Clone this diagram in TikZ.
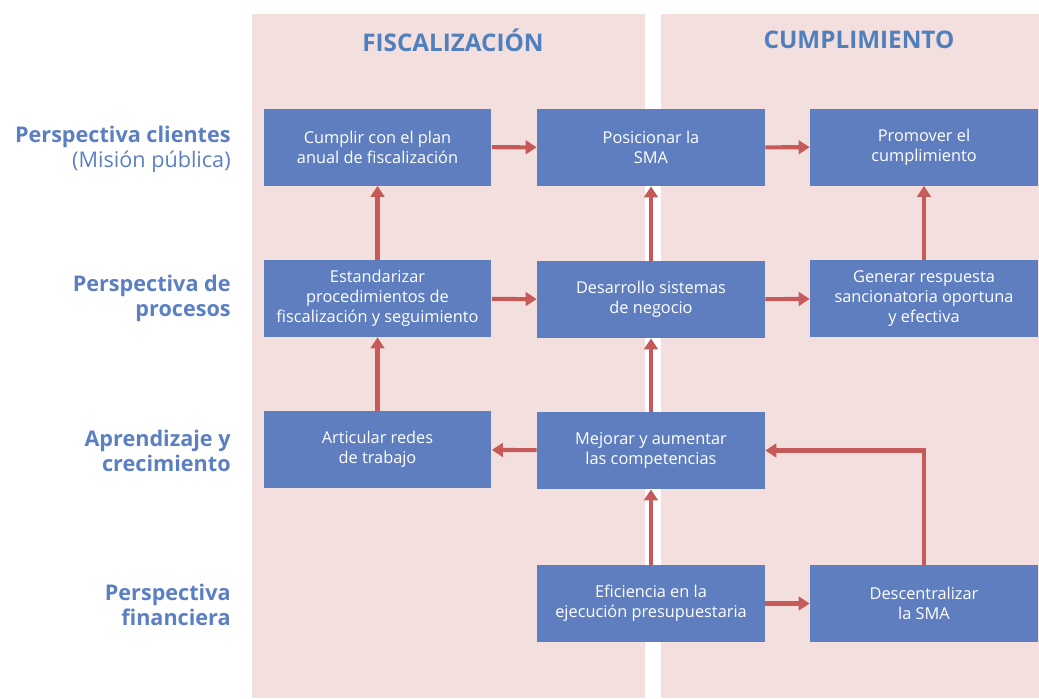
\documentclass[tikz,border=0pt]{standalone}
\usepackage{fontspec}
\setmainfont{Open Sans}
\usepackage{tikz}
\usetikzlibrary{arrows.meta,positioning,calc}

\definecolor{panelbg}{HTML}{F2DFDE}
\definecolor{boxblue}{HTML}{5F7EBF}
\definecolor{titleblue}{HTML}{4F7FBD}
\definecolor{labelblue}{HTML}{5B7FC2}
\definecolor{arrowred}{HTML}{C55A58}

\begin{document}
\begin{tikzpicture}[x=0.02cm, y=-0.02cm,
    objbox/.style={fill=boxblue, draw=none, minimum width=4.56cm, minimum height=1.54cm,
        text=white, align=center, font=\fontsize{9.3}{11.4}\selectfont, inner sep=2pt},
    persp/.style={anchor=east, align=right, text=labelblue, inner sep=0pt,
        font=\fontsize{12.3}{14.2}\selectfont},
    coltitle/.style={text=titleblue, font=\fontsize{13.8}{16}\selectfont\bfseries},
    link/.style={arrowred, line width=2.3pt, -{Triangle[length=0.22cm, width=0.27cm]}}
]
    \useasboundingbox (0,0) rectangle (1039,698);

    % Panels
    \fill[panelbg] (252,14) rectangle (645,698);
    \fill[panelbg] (661,14) rectangle (1039,698);
    \node[coltitle] (tfis) at (453,40) {FISCALIZACIÓN};
    \node[coltitle] (tcum) at (859,40) {CUMPLIMIENTO};

    % Perspectives
    \node[persp] (pcli) at (231,149.5) {\textbf{Perspectiva clientes}\\(Misión pública)};
    \node[persp] (ppro) at (231,298) {\textbf{Perspectiva de}\\\textbf{procesos}};
    \node[persp] (papr) at (231,451) {\textbf{Aprendizaje y}\\\textbf{crecimiento}};
    \node[persp] (pfin) at (231,604.5) {\textbf{Perspectiva}\\\textbf{financiera}};

    % Objectives
    \node[objbox] (cumplir) at (377.5,147) {Cumplir con el plan\\anual de fiscalización};
    \node[objbox] (posic) at (651,147.5) {Posicionar la\\SMA};
    \node[objbox] (promo) at (924,147) {Promover el\\cumplimiento};
    \node[objbox] (estand) at (377.5,298.5) {Estandarizar\\procedimientos de\\fiscalización y seguimiento};
    \node[objbox] (desar) at (651,299.5) {Desarrollo sistemas\\de negocio};
    \node[objbox] (gener) at (924,298.5) {Generar respuesta\\sancionatoria oportuna\\y efectiva};
    \node[objbox] (artic) at (377.5,449.5) {Articular redes\\de trabajo};
    \node[objbox] (mejor) at (651,450.5) {Mejorar y aumentar\\las competencias};
    \node[objbox] (efic) at (651,603.5) {Eficiencia en la\\ejecución presupuestaria};
    \node[objbox] (descen) at (924,603.5) {Descentralizar\\la SMA};

    % Links
    \draw[link] (cumplir) -- (posic);
    \draw[link] (posic) -- (promo);
    \draw[link] (estand) -- (cumplir);
    \draw[link] (desar) -- (posic);
    \draw[link] (gener) -- (promo);
    \draw[link] (estand) -- (desar);
    \draw[link] (desar) -- (gener);
    \draw[link] (artic) -- (estand);
    \draw[link] (mejor) -- (desar);
    \draw[link] (mejor) -- (artic);
    \draw[link] (efic) -- (mejor);
    \draw[link] (efic) -- (descen);
    \draw[link] (descen.north) |- (mejor.east);
\end{tikzpicture}
\end{document}
